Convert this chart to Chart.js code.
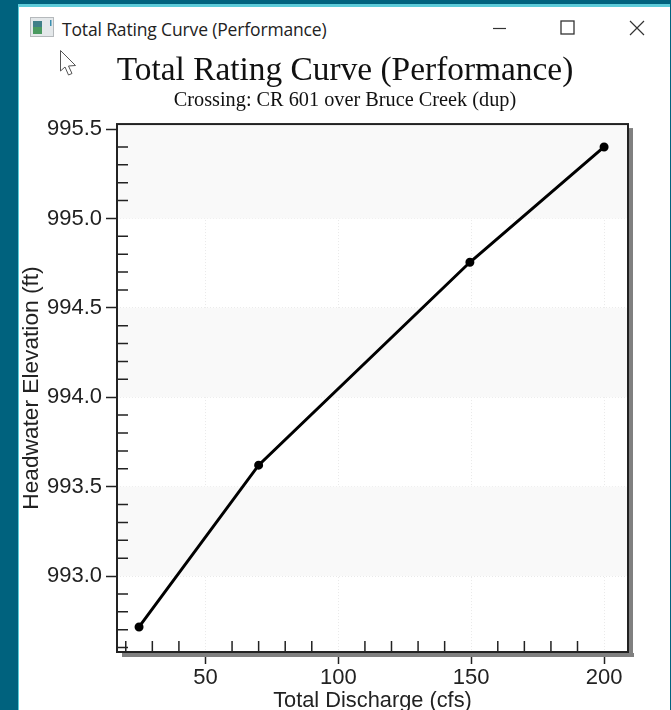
<!DOCTYPE html>
<html>
<head>
<meta charset="utf-8">
<title>Total Rating Curve (Performance)</title>
<script src="https://cdn.jsdelivr.net/npm/chart.js@4"></script>
<style>
    html, body { margin: 0; padding: 0; background: #00627e; overflow: hidden; }
    #frame { position: absolute; left: 18px; top: 4px; width: 651.5px; height: 706px; background: #fff; border-top: 3px solid #5ccbd9; border-left: 1px solid #5ccbd9; box-sizing: border-box; }
    #caption { position: absolute; left: 62px; top: 17px; font: 17.5px "Open Sans", "Noto Sans", sans-serif; color: #222; white-space: nowrap; letter-spacing: -0.15px; }
    .chrome { position: absolute; left: 0; top: 0; }
    #chart { position: absolute; left: 19px; top: 0; }
</style>
</head>
<body>
<div id="frame"></div>
<div id="caption">Total Rating Curve (Performance)</div>
<svg class="chrome" width="671" height="90">
    <!-- icono de la ventana -->
    <rect x="30.5" y="17.5" width="23" height="19" fill="#e4e8ea" stroke="#b5b9bc"/>
    <rect x="33" y="21" width="9" height="13" fill="#3f7f88"/>
    <rect x="33" y="27" width="9" height="7" fill="#4a9a60"/>
    <rect x="50" y="20" width="1.5" height="6" fill="#3a8fb0"/>
    <!-- botones -->
    <line x1="493" y1="28.5" x2="506" y2="28.5" stroke="#333" stroke-width="1.2"/>
    <rect x="561" y="21" width="13" height="13" fill="none" stroke="#333" stroke-width="1.3"/>
    <path d="M630 21 L644 35 M644 21 L630 35" stroke="#333" stroke-width="1.2" fill="none"/>
    <!-- cursor -->
    <path d="M60.5 50.5 V71 L65 67 L68.5 75 L72 73.5 L68.5 66 L75.5 65.5 Z" fill="#fff" stroke="#555" stroke-width="1"/>
</svg>
<canvas id="chart" width="652" height="710"></canvas>
<script>
const xPoints = [25, 70, 149.5, 200];
const yPoints = [992.715, 993.62, 994.755, 995.40];
const xTicks = [50, 100, 150, 200];
const yTicks = [993.0, 993.5, 994.0, 994.5, 995.0, 995.5];
const xMinorTicks = [20, 30, 40, 60, 70, 80, 90, 110, 120, 130, 140, 160, 170, 180, 190];
const yMinorTicks = [992.6, 992.7, 992.8, 992.9, 993.1, 993.2, 993.3, 993.4, 993.6, 993.7, 993.8, 993.9,
    994.1, 994.2, 994.3, 994.4, 994.6, 994.7, 994.8, 994.9, 995.1, 995.2, 995.3, 995.4];
const bandStarts = [993, 994, 995];

const axisFont = { family: '"Liberation Sans", Arial, sans-serif', size: 22 };
const inkColor = '#222222';

// Bandas, sombra, marco y marcas menores
const framePlugin = {
    id: 'frame',
    beforeDatasetsDraw(chart) {
        const { ctx, chartArea: a, scales: { y } } = chart;
        ctx.save();
        ctx.fillStyle = '#f9f9f9';
        bandStarts.forEach(start => {
            const topEdge = start === 995 ? a.top : y.getPixelForValue(start + 0.5);
            ctx.fillRect(a.left, topEdge, a.width, y.getPixelForValue(start) - topEdge);
        });
        ctx.restore();
    },
    afterDatasetsDraw(chart) {
        const { ctx, chartArea: a, scales: { x, y } } = chart;
        ctx.save();
        ctx.fillStyle = '#808080';
        ctx.fillRect(a.right + 1, a.top + 4, 4, a.height + 1);
        ctx.fillRect(a.left + 5, a.bottom + 1, a.width + 1, 4);
        ctx.strokeStyle = inkColor;
        ctx.lineWidth = 1.5;
        ctx.beginPath();
        xMinorTicks.forEach(v => {
            const px = x.getPixelForValue(v);
            ctx.moveTo(px, a.bottom);
            ctx.lineTo(px, a.bottom - 11);
        });
        yMinorTicks.forEach(v => {
            const py = y.getPixelForValue(v);
            ctx.moveTo(a.left, py);
            ctx.lineTo(a.left + 11, py);
        });
        ctx.stroke();
        ctx.lineWidth = 2;
        ctx.strokeRect(a.left, a.top, a.width, a.height);
        ctx.restore();
    }
};

new Chart(document.getElementById('chart'), {
    type: 'line',
    data: {
        datasets: [{
            data: xPoints.map((v, i) => ({ x: v, y: yPoints[i] })),
            borderColor: '#000',
            backgroundColor: '#000',
            borderWidth: 3,
            pointRadius: 3,
            tension: 0,
            clip: false
        }]
    },
    options: {
        responsive: false,
        animation: false,
        plugins: {
            legend: { display: false },
            tooltip: { enabled: false },
            title: {
                display: true,
                text: 'Total Rating Curve (Performance)',
                color: '#111',
                font: { family: '"Liberation Serif", "Times New Roman", serif', size: 33.4, weight: 'normal', lineHeight: 1.1 },
                padding: { top: 53, bottom: 0 }
            },
            subtitle: {
                display: true,
                text: 'Crossing: CR 601 over Bruce Creek (dup)',
                color: '#111',
                font: { family: '"Liberation Serif", "Times New Roman", serif', size: 20.3, weight: 'normal', lineHeight: 1.1 },
                padding: { top: 0, bottom: 12 }
            }
        },
        scales: {
            x: {
                type: 'linear',
                min: 16.7,
                max: 209,
                afterBuildTicks: scale => { scale.ticks = xTicks.map(value => ({ value })); },
                afterFit: scale => { scale.height = 58; },
                ticks: { color: inkColor, font: axisFont, padding: 1, maxRotation: 0, autoSkip: false },
                grid: { color: '#e9e9e9', tickColor: inkColor, tickLength: 12, tickWidth: 1.5 },
                border: { dash: [1, 2], display: false },
                title: { display: true, text: 'Total Discharge (cfs)', color: inkColor, font: { family: axisFont.family, size: 21.8 }, padding: { top: 0, bottom: -4 } }
            },
            y: {
                min: 992.575,
                max: 995.528,
                afterBuildTicks: scale => { scale.ticks = yTicks.map(value => ({ value })); },
                afterFit: scale => { scale.width = 98; },
                ticks: { color: inkColor, font: axisFont, padding: 4, autoSkip: false, callback: v => v.toFixed(1) },
                grid: { color: '#e9e9e9', tickColor: inkColor, tickLength: 11, tickWidth: 1.5 },
                border: { dash: [1, 2], display: false },
                title: { display: true, text: 'Headwater Elevation (ft)', color: inkColor, font: { family: axisFont.family, size: 22.7 }, padding: { top: -1, bottom: 0 } }
            },
            // Eje vacio a la derecha: deja el margen sin descentrar el titulo
            rightGap: {
                position: 'right',
                ticks: { display: false },
                grid: { display: false },
                border: { display: false },
                afterFit: scale => { scale.width = 43; }
            }
        }
    },
    plugins: [framePlugin]
});
</script>
</body>
</html>
